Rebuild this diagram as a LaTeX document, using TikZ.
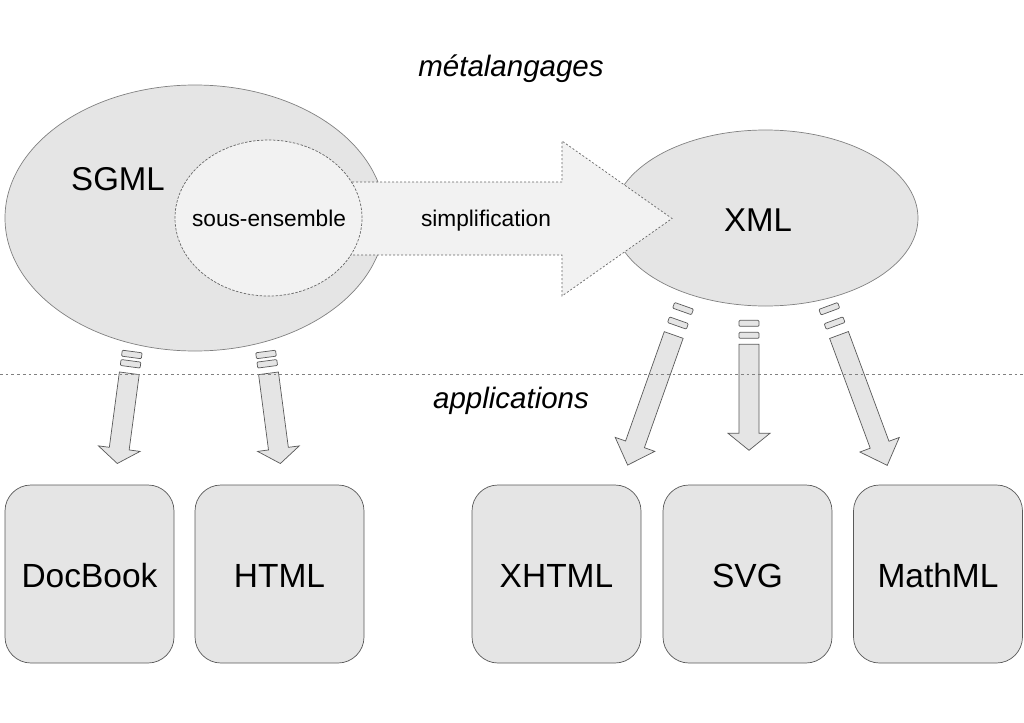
\documentclass[tikz,border=0pt]{standalone}
\usepackage{fontspec}
\setmainfont{Liberation Sans}
\usetikzlibrary{shapes.geometric}
\tikzset{
  bigell/.style={ellipse, draw=black!50, line width=0.7pt, fill=gray!20, inner sep=0pt},
  subell/.style={ellipse, draw=black!60, line width=0.7pt, fill=gray!10, inner sep=0pt, dash pattern=on 2.5pt off 1.5pt},
  bigarrow/.style={draw=black!60, line width=0.7pt, fill=gray!10, dash pattern=on 2pt off 2pt},
  smallarr/.style={draw=black!65, line width=0.7pt, fill=gray!20},
  appbox/.style={draw=black!65, line width=0.7pt, fill=gray!20, rounded corners=26pt,
    minimum width=169pt, minimum height=178pt, inner sep=0pt},
  bigtxt/.style={font=\fontsize{33.5}{38}\selectfont, anchor=base},
  midtxt/.style={font=\fontsize{22.7}{26}\selectfont, anchor=base},
  ittxt/.style={font=\fontsize{29.5}{34}\selectfont\itshape, anchor=base},
  sepline/.style={draw=black!50, line width=1pt, dash pattern=on 2.7pt off 3pt}
}
% #1 start (top centre of body), #2 angle, #3 length, #4 head length, #5 stripe-2 centre, #6 stripe-1 centre
\newcommand\fatarrow[6]{%
  \begin{scope}[shift={#1}, rotate=#2]
    \draw[smallarr, rounded corners=1pt] (-10,-#5-3) rectangle (10,-#5+3);
    \draw[smallarr, rounded corners=1pt] (-10,-#6-3) rectangle (10,-#6+3);
    \draw[smallarr] (-10,0) -- (10,0) -- (10,#3-#4) -- (21,#3-#4) -- (0,#3)
      -- (-21,#3-#4) -- (-10,#3-#4) -- cycle;
  \end{scope}}
\begin{document}
\begin{tikzpicture}[x=1pt, y=-1pt]
\useasboundingbox (0,0) rectangle (1024,722);

% ellipses
\node[bigell, minimum width=380pt, minimum height=266pt] (sgml) at (195,218) {};
\node[bigell, minimum width=305pt, minimum height=176pt] (xml) at (765.5,218) {};

% simplification arrow
\draw[bigarrow] (340,182) -- (562,182) -- (562,141) -- (672,218.5)
  -- (562,296) -- (562,255) -- (340,255) -- cycle;

\node[subell, minimum width=187pt, minimum height=156pt] (sub) at (268.5,218) {};

% texts
\node[ittxt] (meta) at (511,77) {métalangages};
\node[bigtxt, font=\fontsize{33}{38}\selectfont] (sgmltxt) at (118,190) {SGML};
\node[midtxt] (subtxt) at (269,226) {sous-ensemble};
\node[midtxt] (simp) at (486,226.5) {simplification};
\node[bigtxt, font=\fontsize{33}{38}\selectfont] (xmltxt) at (758,231) {XML};
\node[ittxt] (apps) at (511,408) {applications};

% application boxes
\node[appbox] (docbook) at (89.5,574) {};
\node[appbox] (html) at (279.5,574) {};
\node[appbox] (xhtml) at (556.5,574) {};
\node[appbox] (svg) at (747.5,574) {};
\node[appbox] (mathml) at (938,574) {};
\node[bigtxt] (tdocbook) at (89.5,587) {DocBook};
\node[bigtxt] (thtml) at (279.5,587) {HTML};
\node[bigtxt] (txhtml) at (556.5,587) {XHTML};
\node[bigtxt] (tsvg) at (747.5,587) {SVG};
\node[bigtxt] (tmathml) at (938,587) {MathML};

% arrows from metalanguages to applications
\fatarrow{(129.3,373.3)}{-7.6}{91}{15}{9.6}{19}
\fatarrow{(268.5,373.3)}{7.5}{91}{15}{9.6}{19}
\fatarrow{(673.7,335)}{-19.5}{138}{22}{12.7}{28}
\fatarrow{(749,344.3)}{0}{106}{17}{9}{21}
\fatarrow{(839,335)}{20.3}{139}{22}{12.7}{28}

% separator
\coordinate (sepL) at (0,374);
\coordinate (sepR) at (1024,374);
\draw[sepline] (sepL) -- (sepR);
\end{tikzpicture}
\end{document}
